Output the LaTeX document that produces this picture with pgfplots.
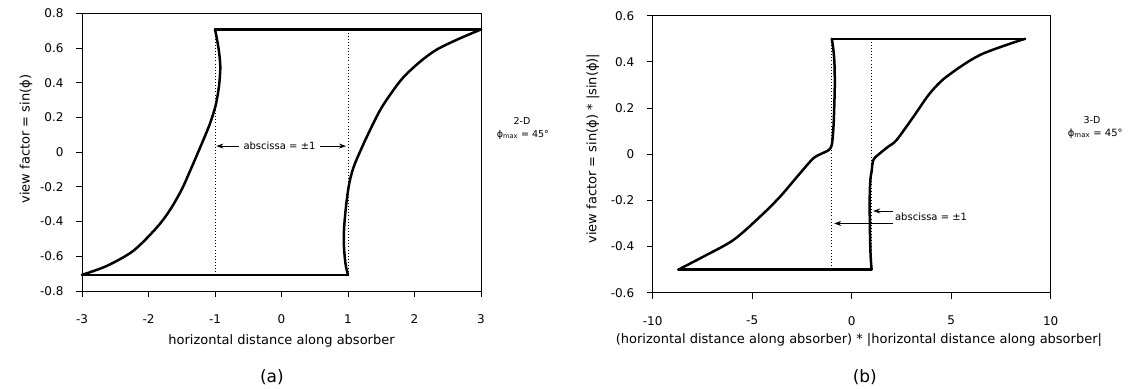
\documentclass[border=0pt]{standalone}
\usepackage{fontspec}
\setmainfont{DejaVu Sans}
\usepackage{pgfplots}
\pgfplotsset{compat=1.18}
\usetikzlibrary{arrows.meta}
\tikzset{
  curve/.style={line width=2.5pt, black, line join=round, line cap=round},
  dots/.style={line width=0.8pt, black, dash pattern=on 0.9pt off 2.2pt},
  arr/.style={line width=0.7pt, -{Stealth[length=7pt,width=5pt]}},
}
\begin{document}
\begin{tikzpicture}
\path (0pt,0pt) rectangle (1129pt,388pt);
\pgfplotsset{
  every axis/.append style={
    scale only axis, clip=false,
    axis line style={line width=1pt},
    tick align=outside, xtick pos=bottom, ytick pos=left,
    major tick length=6pt,
    tick style={line width=0.9pt, black},
    /pgf/number format/assume math mode=true,
    ticklabel style={font=\fontsize{12}{14}\selectfont},
    xticklabel style={yshift=-14pt},
    yticklabel style={xshift=-9pt, /pgf/number format/fixed,/pgf/number format/precision=1},
    label style={font=\fontsize{13}{15}\selectfont},
  },
}
% ---------------- (a) 2-D ----------------
\begin{axis}[at={(82pt,97pt)}, anchor=south west, width=399pt, height=277.7pt,
  xmin=-3, xmax=3, ymin=-0.8, ymax=0.8,
  xtick={-3,-2,-1,0,1,2,3},
  ytick={-0.8,-0.6,-0.4,-0.2,0,0.2,0.4,0.6,0.8},
  xlabel={horizontal distance along absorber},
  xlabel style={at={(axis description cs:0.5,-0.18)}, anchor=center},
  ylabel={view factor = sin(ϕ)},
  ylabel style={at={(axis description cs:-0.14,0.547)}, anchor=center},
]
\addplot[dots] coordinates {(-1,0.707) (-1,-0.707)};
\addplot[dots] coordinates {(1,0.707) (1,-0.707)};
\addplot[curve] coordinates {(-1,0.707) (3,0.707)};
\addplot[curve] coordinates {(-3,-0.707) (1,-0.707)};
\addplot[curve, smooth] coordinates {
 (-3,-0.707) (-2.63,-0.656) (-2.23,-0.569) (-1.877,-0.435) (-1.68,-0.335)
 (-1.5,-0.215) (-1.36,-0.095) (-1.22,0.03) (-1.08,0.16) (-0.99,0.27) (-0.94,0.38)
 (-0.92,0.49) (-0.94,0.58) (-0.97,0.65) (-1,0.707)};
\addplot[curve, smooth] coordinates {
 (1,-0.707) (0.965,-0.65) (0.94,-0.55) (0.94,-0.45) (0.96,-0.35)
 (0.99,-0.25) (1.03,-0.16) (1.1,-0.07) (1.28,0.086) (1.48,0.24)
 (1.65,0.34) (1.83,0.43) (2.08,0.52) (2.33,0.59) (2.65,0.65) (3,0.707)};
\draw[arr] (axis cs:-0.64,0.035) -- (axis cs:-0.98,0.035);
\draw[arr] (axis cs:0.58,0.035) -- (axis cs:0.97,0.035);
\node[font=\fontsize{10}{12}\selectfont] at (axis cs:-0.03,0.035) {abscissa = ±1};
\node[font=\fontsize{9.5}{11}\selectfont] at (axis description cs:1.103,0.612) {2-D};
\node[font=\fontsize{9.5}{11}\selectfont] at (axis description cs:1.105,0.562) {ϕ\textsubscript{max} = 45°};
\node[font=\fontsize{17}{19}\selectfont] at (axis description cs:0.476,-0.31) {(a)};
\end{axis}
% ---------------- (b) 3-D ----------------
\begin{axis}[at={(652.7pt,95.3pt)}, anchor=south west, width=398pt, height=277pt,
  xmin=-10, xmax=10, ymin=-0.6, ymax=0.6,
  xtick={-10,-5,0,5,10},
  ytick={-0.6,-0.4,-0.2,0,0.2,0.4,0.6},
  xlabel={(horizontal distance along absorber) * |horizontal distance along absorber|},
  xlabel style={at={(axis description cs:0.518,-0.171)}, anchor=center},
  ylabel={view factor = sin(ϕ) * |sin(ϕ)|},
  ylabel style={at={(axis description cs:-0.15,0.52)}, anchor=center},
]
\addplot[dots] coordinates {(-1,0.5) (-1,-0.5)};
\addplot[dots] coordinates {(1,0.5) (1,-0.5)};
\addplot[curve] coordinates {(-1,0.5) (8.71,0.5)};
\addplot[curve] coordinates {(-8.71,-0.5) (1,-0.5)};
\addplot[curve, smooth, tension=0.5] coordinates {
 (-8.71,-0.5) (-7.46,-0.444) (-5.95,-0.372) (-4.61,-0.271) (-3.6,-0.184)
 (-2.6,-0.083) (-1.93,-0.018) (-1.45,0.005) (-1.15,0.018) (-1.0,0.04)
 (-0.93,0.1) (-0.89,0.17) (-0.85,0.3) (-0.87,0.4) (-0.93,0.46) (-1.0,0.5)};
\addplot[curve, smooth, tension=0.5] coordinates {
 (1.0,-0.5) (0.95,-0.44) (0.92,-0.35) (0.905,-0.25) (0.91,-0.16)
 (0.95,-0.1) (1.0,-0.075) (1.09,-0.025) (1.42,0.004) (1.84,0.033)
 (2.26,0.062) (3.1,0.162) (3.93,0.264) (4.77,0.336) (6.45,0.43) (8.71,0.5)};
\draw[arr] (axis cs:2.05,-0.246) -- (axis cs:1.08,-0.246);
\draw[arr] (axis cs:2.05,-0.30) -- (axis cs:-0.88,-0.30);
\node[font=\fontsize{10}{12}\selectfont, anchor=west, inner sep=0pt] at (axis cs:2.17,-0.272) {abscissa = ±1};
\node[font=\fontsize{9.5}{11}\selectfont] at (axis description cs:1.104,0.623) {3-D};
\node[font=\fontsize{10}{12}\selectfont] at (axis description cs:1.112,0.575) {ϕ\textsubscript{max} = 45°};
\node[font=\fontsize{17}{19}\selectfont] at (axis description cs:0.533,-0.304) {(b)};
\end{axis}
\end{tikzpicture}
\end{document}
